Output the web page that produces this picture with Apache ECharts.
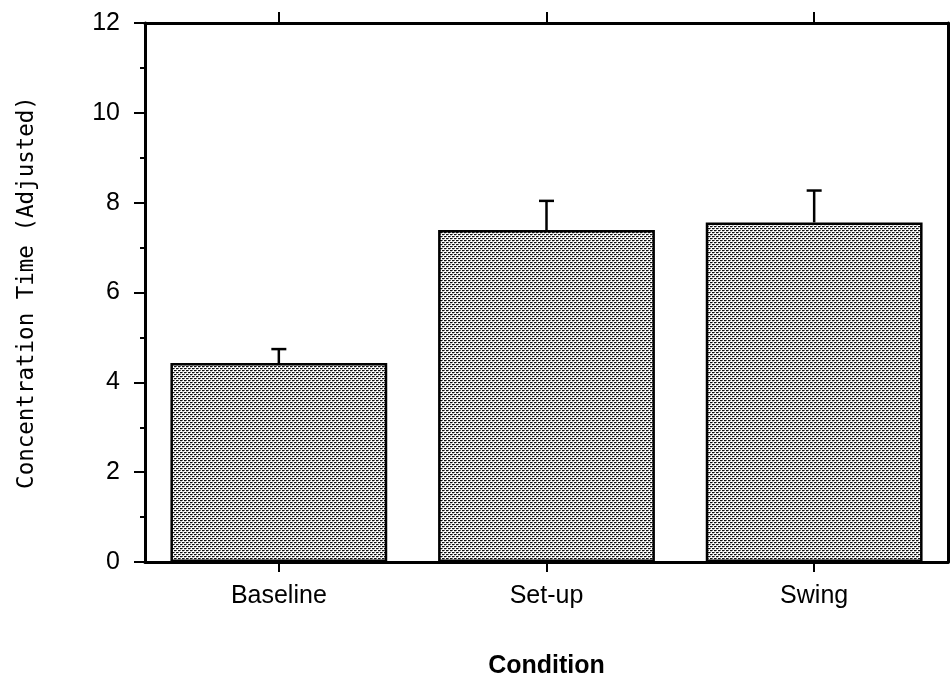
<!DOCTYPE html>
<html>
<head>
<meta charset="utf-8">
<script src="https://cdn.jsdelivr.net/npm/echarts@6/dist/echarts.min.js"></script>
<style>
  html, body { margin: 0; padding: 0; background: #fff; }
  #chart { width: 950px; height: 684px; }
</style>
</head>
<body>
<div id="chart"></div>
<script>
// Mean concentration time per condition, with standard error (upper whisker only)
const categories = ['Baseline', 'Set-up', 'Swing'];
const meanValues = [4.43, 7.39, 7.56];
const errorValues = [0.31, 0.65, 0.71];
const yTicks = [0, 2, 4, 6, 8, 10, 12];

// Stippled fill used by the bars
function makeStipple() {
  const c = document.createElement('canvas');
  c.width = 4; c.height = 4;
  const ctx = c.getContext('2d');
  ctx.fillStyle = '#ffffff';
  ctx.fillRect(0, 0, 4, 4);
  ctx.fillStyle = '#111111';
  ctx.fillRect(0, 0, 2, 1);
  ctx.fillRect(2, 2, 2, 1);
  ctx.fillStyle = '#6e6e6e';
  ctx.fillRect(2, 0, 1, 1);
  ctx.fillRect(0, 2, 1, 1);
  ctx.fillStyle = '#cccccc';
  ctx.fillRect(0, 1, 2, 1);
  ctx.fillRect(2, 3, 2, 1);
  return c;
}

const chart = echarts.init(document.getElementById('chart'), null, { renderer: 'canvas' });
const fontMain = 'Liberation Sans, Arial, Helvetica, sans-serif';
const fontTitle = 'DejaVu Sans Mono, Liberation Mono, monospace';

const errData = categories.map((c, i) => [i, meanValues[i], errorValues[i]]);

chart.setOption({
  animation: false,
  backgroundColor: '#ffffff',
  grid: { left: 145, right: 2, top: 23, bottom: 122, show: false },
  xAxis: [
    {
      type: 'category',
      data: categories,
      position: 'bottom',
      name: 'Condition',
      nameLocation: 'middle',
      nameGap: 92,
      nameTextStyle: { fontFamily: fontMain, fontWeight: 'bold', fontSize: 25, color: '#000' },
      axisLine: { show: true, lineStyle: { color: '#000', width: 3 } },
      axisTick: { show: true, alignWithLabel: true, length: 10, lineStyle: { color: '#000', width: 2 } },
      axisLabel: { margin: 22, fontFamily: fontMain, fontSize: 25, color: '#000' }
    },
    {
      type: 'category',
      data: categories,
      position: 'top',
      axisLine: { show: true, onZero: false, lineStyle: { color: '#000', width: 3 } },
      axisTick: { show: true, alignWithLabel: true, length: 11, lineStyle: { color: '#000', width: 2 } },
      axisLabel: { show: false }
    }
  ],
  yAxis: [
    {
      type: 'value',
      min: yTicks[0],
      max: yTicks[yTicks.length - 1],
      interval: 2,
      name: 'Concentration Time (Adjusted)',
      nameLocation: 'middle',
      nameGap: 106,
      nameTextStyle: { fontFamily: fontTitle, fontSize: 22.5, color: '#000' },
      axisLine: { show: true, lineStyle: { color: '#000', width: 3 } },
      axisTick: { show: true, length: 11, lineStyle: { color: '#000', width: 2 } },
      minorTick: { show: true, splitNumber: 2, length: 5, lineStyle: { color: '#000', width: 2 } },
      splitLine: { show: false },
      axisLabel: { margin: 25, fontFamily: fontMain, fontSize: 25, color: '#000' }
    },
    {
      type: 'value',
      position: 'right',
      min: yTicks[0],
      max: yTicks[yTicks.length - 1],
      interval: 2,
      axisLine: { show: true, onZero: false, lineStyle: { color: '#000', width: 3 } },
      axisTick: { show: false },
      axisLabel: { show: false },
      splitLine: { show: false }
    }
  ],
  series: [
    {
      type: 'bar',
      data: meanValues,
      barWidth: '81%',
      itemStyle: {
        color: { image: makeStipple(), repeat: 'repeat' },
        borderColor: '#000',
        borderWidth: 2.5
      },
      z: 2
    },
    {
      type: 'custom',
      data: errData,
      z: 3,
      renderItem: function (params, api) {
        const x = api.value(0);
        const base = api.coord([x, api.value(1)]);
        const top = api.coord([x, api.value(1) + api.value(2)]);
        const half = 7.5;
        return {
          type: 'group',
          children: [
            { type: 'line', shape: { x1: base[0], y1: base[1], x2: top[0], y2: top[1] }, style: { stroke: '#000', lineWidth: 2.5 } },
            { type: 'line', shape: { x1: top[0] - half, y1: top[1], x2: top[0] + half, y2: top[1] }, style: { stroke: '#000', lineWidth: 2.5 } }
          ]
        };
      }
    }
  ]
});
</script>
</body>
</html>
